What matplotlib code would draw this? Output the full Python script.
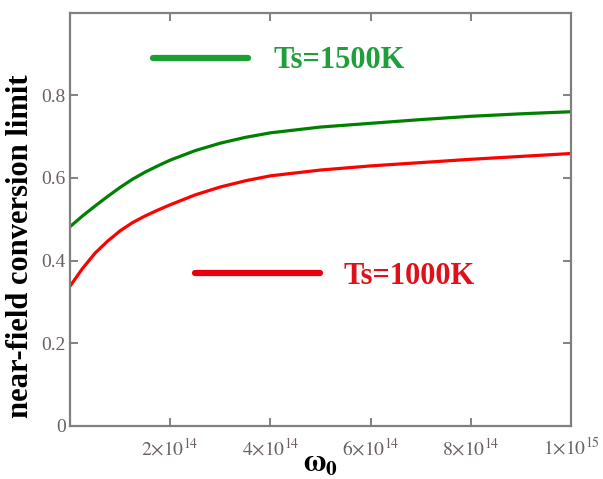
import matplotlib
matplotlib.use("Agg")
import matplotlib.pyplot as plt
from matplotlib.lines import Line2D
import numpy as np

# omega_0 in units of 1e14 rad/s
omega_e14 = [0, 0.25, 0.5, 0.75, 1.0, 1.25, 1.5, 1.75, 2.0, 2.5, 3.0, 3.5, 4.0,
             5, 6, 7, 8, 9, 10]
limit_1500 = [0.482, 0.508, 0.532, 0.555, 0.577, 0.597, 0.614, 0.629, 0.643,
              0.666, 0.684, 0.698, 0.709, 0.723, 0.732, 0.741, 0.749, 0.755, 0.760]
limit_1000 = [0.338, 0.381, 0.418, 0.447, 0.472, 0.492, 0.508, 0.522, 0.535,
              0.559, 0.578, 0.593, 0.605, 0.619, 0.629, 0.637, 0.645, 0.652, 0.659]
x_tick_vals = [2e14, 4e14, 6e14, 8e14, 1e15]
x_tick_labels = [r'$2{\times}10^{14}$', r'$4{\times}10^{14}$', r'$6{\times}10^{14}$',
                 r'$8{\times}10^{14}$', r'$1{\times}10^{15}$']
y_tick_vals = [0, 0.2, 0.4, 0.6, 0.8]
y_tick_labels = ['0', '0.2', '0.4', '0.6', '0.8']
label_1500 = 'Ts=1500K'
label_1000 = 'Ts=1000K'

plt.rcParams['mathtext.fontset'] = 'stix'
serif = ['Liberation Serif', 'DejaVu Serif']

fig = plt.figure(figsize=(6.03, 4.79), dpi=100)
W, H = 603, 479
ax = fig.add_axes([70 / W, 1 - 426 / H, 501 / W, 413.5 / H])

x = np.array(omega_e14) * 1e14
ax.plot(x, limit_1500, color='#008000', lw=2.3, solid_capstyle='butt')
ax.plot(x, limit_1000, color='#ff0000', lw=2.3, solid_capstyle='butt')

ax.set_xlim(0, 1e15)
ax.set_ylim(0, 1.0)
ax.set_xticks(x_tick_vals)
ax.set_xticklabels(x_tick_labels)
ax.set_yticks(y_tick_vals)
ax.set_yticklabels(y_tick_labels)

tick_color = '#6a6060'
ax.tick_params(axis='both', direction='in', top=True, right=True, length=6,
               width=1.3, color='#777777', labelsize=14, labelcolor=tick_color)
ax.tick_params(axis='x', pad=8)
ax.tick_params(axis='y', pad=3)
for lab in ax.get_xticklabels() + ax.get_yticklabels():
    lab.set_family(serif)
for sp in ax.spines.values():
    sp.set_color('#808080')
    sp.set_linewidth(1.6)

ax.set_ylabel('near-field conversion limit', family=serif, fontweight='bold',
              fontsize=22)
ax.yaxis.set_label_coords(35 / W, 1 - 246 / H, transform=fig.transFigure)
fig.text(320 / W, 1 - 464 / H, r'$\mathbf{\omega}_{\mathbf{0}}$', fontsize=22,
         ha='center', va='center')

fs = 22
leg1 = ax.legend(handles=[Line2D([], [], color='#1aa030', lw=4.5, solid_capstyle='round')],
                 labels=[label_1500], loc='center left', frameon=False,
                 bbox_to_anchor=(153 / W, 1 - 61 / H), bbox_transform=fig.transFigure,
                 handlelength=3.1, handletextpad=0.85, borderpad=0, borderaxespad=0,
                 prop={'family': serif, 'weight': 'bold', 'size': fs})
for t in leg1.get_texts():
    t.set_color('#1f9e3c')
ax.add_artist(leg1)
leg2 = ax.legend(handles=[Line2D([], [], color='#e8000f', lw=4.5, solid_capstyle='round')],
                 labels=[label_1000], loc='center left', frameon=False,
                 bbox_to_anchor=(195 / W, 1 - 276 / H), bbox_transform=fig.transFigure,
                 handlelength=4.1, handletextpad=0.75, borderpad=0, borderaxespad=0,
                 prop={'family': serif, 'weight': 'bold', 'size': fs})
for t in leg2.get_texts():
    t.set_color('#e0101a')

fig.savefig('out.png', dpi=100)
